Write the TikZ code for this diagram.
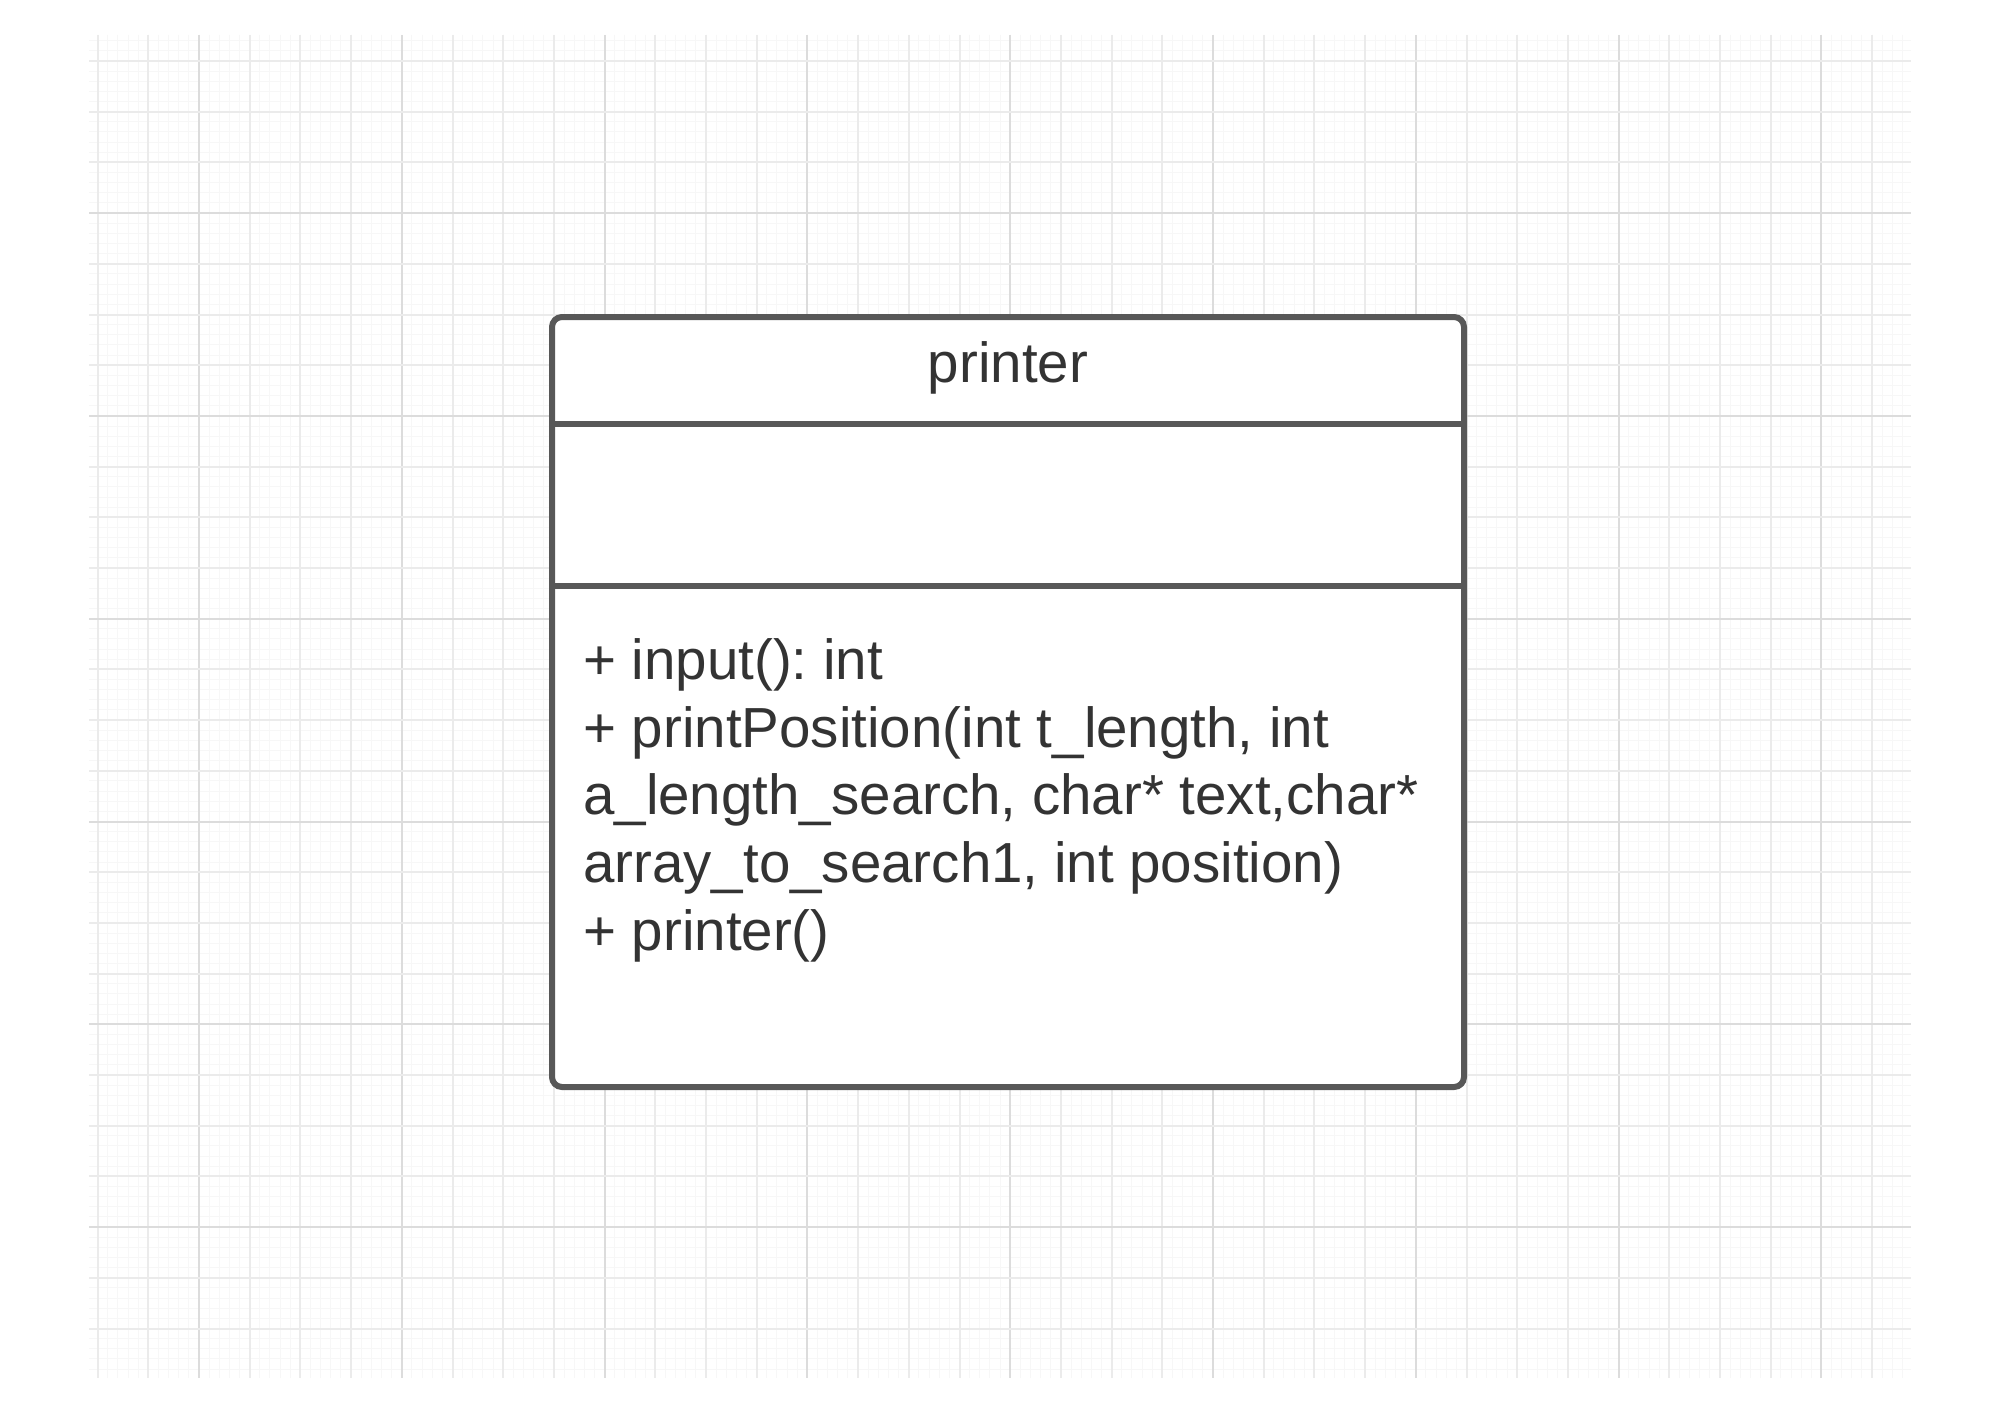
\documentclass[tikz,border=0pt]{standalone}
\usepackage{fontspec}
\newfontfamily\umlfont{Liberation Sans}
\definecolor{gridmajor}{HTML}{DCDCDC}
\definecolor{gridmid}{HTML}{EBEBEB}
\definecolor{gridminor}{HTML}{F7F7F7}
\definecolor{boxline}{HTML}{585858}
\definecolor{txt}{HTML}{333333}
\tikzset{
  umlbox/.style={draw=boxline, line width=6pt, fill=white, rounded corners=10pt, minimum width=912pt, minimum height=770pt, inner sep=0pt},
  divider/.style={draw=boxline, line width=6pt},
  umltext/.style={inner sep=0pt, anchor=base west, text=txt, font=\umlfont\fontsize{56.5pt}{68pt}\selectfont\frenchspacing},
  umltitle/.style={inner sep=0pt, anchor=base, text=txt, font=\umlfont\fontsize{56.5pt}{68pt}\selectfont\frenchspacing},
}
\begin{document}
\begin{tikzpicture}[x=1pt,y=-1pt]
\useasboundingbox (0,0) rectangle (2000,1413);
\fill[white] (0,0) rectangle (2000,1413);
% minor grid
\foreach \k in {0,...,181} {
  \pgfmathsetmacro{\gx}{97.6+\k*10.14-20.28}
  \ifdim \gx pt > 89pt \ifdim \gx pt < 1911pt
    \draw[gridminor, line width=1pt] (\gx,35) -- (\gx,1378);
  \fi\fi
}
\foreach \k in {0,...,134} {
  \pgfmathsetmacro{\gy}{61+\k*10.14-20.28}
  \ifdim \gy pt > 35pt \ifdim \gy pt < 1378pt
    \draw[gridminor, line width=1pt] (89,\gy) -- (1911,\gy);
  \fi\fi
}
% medium / major grid
\foreach \k in {0,...,35} {
  \pgfmathsetmacro{\gx}{97.6+\k*50.7}
  \pgfmathtruncatemacro{\r}{mod(\k,4)}
  \ifnum\r=2
    \draw[gridmajor, line width=2pt] (\gx,35) -- (\gx,1378);
  \else
    \draw[gridmid, line width=2pt] (\gx,35) -- (\gx,1378);
  \fi
}
\foreach \k in {0,...,25} {
  \pgfmathsetmacro{\gy}{61+\k*50.7}
  \pgfmathtruncatemacro{\r}{mod(\k,4)}
  \ifnum\r=3
    \draw[gridmajor, line width=2pt] (89,\gy) -- (1911,\gy);
  \else
    \draw[gridmid, line width=2pt] (89,\gy) -- (1911,\gy);
  \fi
}
% class box
\node[umlbox] (box) at (1008,702) {};
\coordinate (d1) at (0,424);
\coordinate (d2) at (0,586);
\draw[divider] (box.west |- d1) -- (box.east |- d1);
\draw[divider] (box.west |- d2) -- (box.east |- d2);
\node[umltitle] (title) at (1008,382) {printer};
\node[umltext] (m1) at (583,679) {+ input(): int};
\node[umltext] (m2) at (583,747) {+ printPosition(int t\_length, int};
\node[umltext] (m3) at (583,814) {a\_length\_search, char* text,char*};
\node[umltext] (m4) at (583,882) {array\_to\_search1, int position)};
\node[umltext] (m5) at (583,950) {+ printer()};
\end{tikzpicture}
\end{document}
